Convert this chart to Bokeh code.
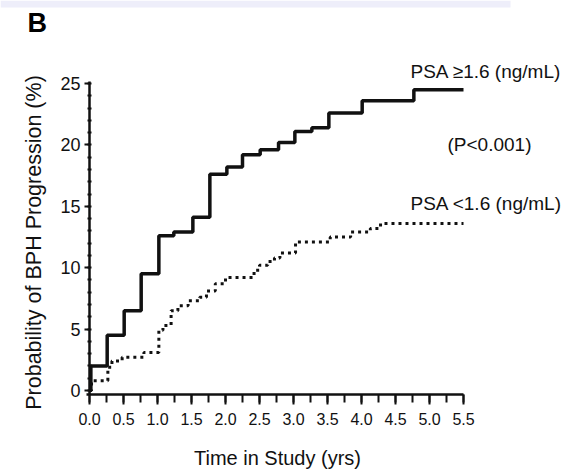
import math
from bokeh.plotting import figure
from bokeh.models import Range1d, FixedTicker, Label
from bokeh.core.properties import value
from bokeh.embed import file_html
from bokeh.resources import INLINE

# ---- data ----
high_psa_time = [0, 0.02, 0.26, 0.51, 0.76, 1.02, 1.24, 1.52, 1.77, 2.02, 2.25, 2.51, 2.78, 3.02, 3.27, 3.52, 4.01, 4.77, 5.5]
high_psa_prob = [0, 2.0, 4.5, 6.5, 9.5, 12.6, 12.9, 14.1, 17.6, 18.2, 19.2, 19.6, 20.2, 21.1, 21.4, 22.6, 23.6, 24.5, 24.5]

low_psa_time = [0, 0.03, 0.27, 0.33, 0.48, 0.8, 1.02, 1.08, 1.2, 1.3, 1.45, 1.62, 1.72, 1.85, 2.0, 2.42, 2.5, 2.62, 2.72, 2.8, 3.03, 3.54, 3.84, 4.13, 4.28, 5.5]
low_psa_prob = [0, 0.8, 1.9, 2.4, 2.7, 3.1, 4.9, 5.3, 6.5, 6.9, 7.3, 7.6, 8.1, 8.7, 9.2, 9.8, 10.2, 10.5, 10.8, 11.2, 12.1, 12.5, 12.9, 13.2, 13.6, 13.6]

x_ticks = [0.0, 0.5, 1.0, 1.5, 2.0, 2.5, 3.0, 3.5, 4.0, 4.5, 5.0, 5.5]
x_tick_labels = ["0.0", "0.5", "1.0", "1.5", "2.0", "2.5", "3.0", "3.5", "4.0", "4.5", "5.0", "5.5"]
x_minor_ticks = [i * 0.25 for i in range(23)]
y_ticks = [0, 5, 10, 15, 20, 25]
y_minor_ticks = list(range(0, 26))

label_high = "PSA \u22651.6 (ng/mL)"
label_low = "PSA <1.6 (ng/mL)"
label_p = "(P<0.001)"
panel_letter = "B"
x_title = "Time in Study (yrs)"
y_title = "Probability of BPH Progression (%)"

FONT = "Liberation Sans"
INK = "#111111"

# ---- canvas geometry (the frame fills the whole canvas) ----
W, H = 585, 473
X0, PX_X = 89.0, 68.0     # pixel of t=0, pixels per year
Y0, PX_Y = 390.0, 12.28   # pixel of 0 %, pixels per percent


def dx(px):
    return (px - X0) / PX_X


def dy(py):
    return (Y0 - py) / PX_Y


p = figure(
    output_backend="svg", toolbar_location=None, width=W, height=H, min_border=0,
    x_range=Range1d(dx(0), dx(W)), y_range=Range1d(dy(H), dy(0)),
    background_fill_color="white", border_fill_color="white",
)
p.outline_line_color = None
p.xgrid.visible = False
p.ygrid.visible = False

# lavender strip along the top edge
p.quad(left=[dx(0)], right=[dx(510)], top=[dy(0)], bottom=[dy(7)],
       fill_color="#eeeefa", line_color=None)

p.step(high_psa_time, high_psa_prob, mode="after", line_color=INK, line_width=3.5)
p.step(low_psa_time, low_psa_prob, mode="after", line_color=INK, line_width=3, line_dash="3 4")

xa = p.xaxis[0]
xa.fixed_location = -0.3
xa.bounds = (-0.04, 5.5)
xa.ticker = FixedTicker(ticks=x_ticks, minor_ticks=x_minor_ticks)
xa.major_label_overrides = {t: l for t, l in zip(x_ticks, x_tick_labels)}
xa.axis_line_width = 2.5
xa.axis_line_color = INK
xa.major_tick_line_width = 2
xa.minor_tick_line_width = 2
xa.major_tick_line_color = INK
xa.minor_tick_line_color = INK
xa.major_tick_out = 10
xa.major_tick_in = 0
xa.minor_tick_out = 8
xa.minor_tick_in = 0
xa.major_label_standoff = 9
xa.major_label_text_font = FONT
xa.major_label_text_font_size = "16px"
xa.major_label_text_color = INK

ya = p.yaxis[0]
ya.fixed_location = 0
ya.bounds = (-0.3, 25.2)
ya.ticker = FixedTicker(ticks=y_ticks, minor_ticks=y_minor_ticks)
ya.axis_line_width = 2.5
ya.axis_line_color = INK
ya.major_tick_line_width = 2
ya.minor_tick_line_width = 2
ya.major_tick_line_color = INK
ya.minor_tick_line_color = INK
ya.major_tick_out = 5
ya.major_tick_in = 0
ya.minor_tick_out = 2
ya.minor_tick_in = 2
ya.major_label_standoff = 4
ya.major_label_text_font = FONT
ya.major_label_text_font_size = "18px"
ya.major_label_text_color = INK

# axis titles and panel letter
p.text(x=[dx(277)], y=[dy(457)], text=[x_title], text_font=value(FONT), text_font_size="20px",
       text_color=INK, text_baseline="middle", text_align="center")
p.text(x=[dx(33)], y=[dy(242)], text=[y_title], text_font=value(FONT), text_font_size="21.5px",
       text_color=INK, text_baseline="middle", text_align="center", angle=math.pi / 2)
p.text(x=[dx(27)], y=[dy(7)], text=[panel_letter], text_font=value(FONT), text_font_size="27px",
       text_font_style="bold", text_color="black", text_baseline="top", text_align="left")

for txt, x, y in [(label_high, 4.72, 25.95), (label_p, 5.265, 20.05), (label_low, 4.72, 15.25)]:
    p.add_layout(Label(x=x, y=y, text=txt, text_font=FONT, text_font_size="19px",
                       text_color=INK, text_baseline="middle", text_align="left"))

open("out.html", "w").write(file_html(p, INLINE))
